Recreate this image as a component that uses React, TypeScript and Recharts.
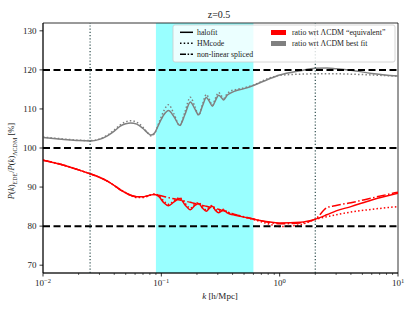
import { ComposedChart, Line, XAxis, YAxis, ReferenceArea, ReferenceLine } from 'recharts';

// k grid shared by every curve [h/Mpc]
const kGrid = [
  0.01, 0.015, 0.02, 0.025, 0.03, 0.035, 0.04, 0.045, 0.05, 0.055,
  0.062, 0.07, 0.077, 0.082, 0.088, 0.095, 0.105, 0.115, 0.128, 0.143,
  0.158, 0.176, 0.192, 0.207, 0.223, 0.24, 0.255, 0.27, 0.287, 0.305,
  0.32, 0.336, 0.36, 0.38, 0.42, 0.5, 0.6, 0.8, 1.0, 1.5,
  2.0, 2.5, 3.0, 4.0, 6.0, 10,
];

// ratio wrt LCDM best fit (gray)
const grayHalofit = [
  102.7, 102.2, 101.9, 101.8, 102.2, 103.1, 104.3, 105.6, 106.2, 106.4,
  106.1, 105.0, 103.8, 103.3, 103.9, 106.0, 108.5, 109.6, 108.0, 105.8,
  108.5, 111.8, 110.0, 108.5, 110.8, 112.9, 111.9, 110.7, 112.2, 113.5,
  113.0, 112.3, 113.5, 114.0, 114.6, 115.2, 116.0, 117.6, 118.7, 119.8,
  120.4, 120.5, 120.3, 119.9, 119.1, 118.4,
];
const grayHmcode = [
  102.8, 102.3, 102.0, 101.9, 102.3, 103.3, 104.6, 105.9, 106.7, 107.0,
  106.6, 105.3, 103.8, 103.1, 103.8, 106.3, 109.5, 111.1, 108.7, 105.7,
  109.2, 113.0, 110.6, 108.4, 111.2, 113.7, 112.4, 110.9, 112.8, 114.2,
  113.5, 112.7, 113.9, 114.5, 114.9, 115.4, 116.1, 117.8, 118.6, 118.9,
  119.0, 119.0, 119.0, 118.9, 118.7, 118.4,
];

// ratio wrt LCDM "equivalent" (red)
const redHalofit = [
  96.9, 95.6, 94.4, 93.4, 92.5, 91.5, 90.4, 89.3, 88.5, 87.9,
  87.5, 87.5, 87.8, 88.0, 88.1, 87.6, 86.0, 85.2, 86.2, 87.1,
  85.5, 84.2, 85.3, 85.8, 84.6, 83.8, 84.6, 85.1, 84.0, 83.4,
  83.8, 84.1, 83.4, 83.1, 82.8, 82.3, 81.8, 81.1, 80.8, 81.0,
  81.8, 82.9, 83.9, 85.0, 86.7, 88.4,
];
const redHmcode = [
  96.9, 95.6, 94.4, 93.4, 92.5, 91.5, 90.4, 89.4, 88.6, 87.9,
  87.3, 87.3, 87.7, 88.0, 88.2, 87.8, 86.4, 85.6, 86.5, 87.3,
  85.9, 84.6, 85.6, 86.0, 84.9, 84.2, 84.9, 85.3, 84.3, 83.8,
  84.1, 84.3, 83.6, 83.3, 82.9, 82.3, 81.7, 80.6, 79.9, 80.4,
  81.7, 82.4, 82.9, 83.6, 84.3, 85.0,
];
const redSpliced = [
  96.9, 95.6, 94.4, 93.4, 92.5, 91.5, 90.4, 89.3, 88.5, 87.9,
  87.5, 87.5, 87.8, 88.0, 88.1, 87.9, 87.6, 87.3, 87.0, 86.7,
  86.4, 86.1, 85.8, 85.6, 85.3, 85.1, 84.9, 84.7, 84.5, 84.3,
  84.1, 83.9, 83.6, 83.4, 83.0, 82.4, 81.8, 81.0, 80.6, 80.8,
  81.8, 84.7, 85.3, 86.0, 87.2, 88.7,
];

const xMajorTicks = [0.01, 0.1, 1, 10];
const xMajorExponents = ['\u22122', '\u22121', '0', '1'];
const yTicks = [70, 80, 90, 100, 110, 120, 130];
const refLevels = [80, 100, 120];
const scaleMarks = [0.025, 2];
const band = [0.09, 0.6];

const FONT = '"Liberation Serif", "Times New Roman", serif';

const xMinorTicks = [0.01, 0.1, 1].flatMap((d) =>
  [2, 3, 4, 5, 6, 7, 8, 9].map((m) => +(m * d).toPrecision(3))
);
const xTicks = [...xMajorTicks, ...xMinorTicks].sort((a, b) => a - b);

const rows = kGrid.map((k, i) => ({
  k,
  grayHalofit: grayHalofit[i],
  grayHmcode: grayHmcode[i],
  redHalofit: redHalofit[i],
  redHmcode: redHmcode[i],
  redSpliced: redSpliced[i],
}));

function LogTick(props: any) {
  const { x, y, payload } = props;
  const i = xMajorTicks.indexOf(payload.value);
  const major = i >= 0;
  return (
    <g>
      <line x1={x} x2={x} y1={y} y2={y + (major ? 3.5 : 2)} stroke="#000" strokeWidth={major ? 0.8 : 0.6} />
      {major && (
        <text x={x} y={y + 13} textAnchor="middle" fontSize={9} fontFamily={FONT} fill="#222">
          10<tspan dy={-3.5} fontSize={6.5}>{xMajorExponents[i]}</tspan>
        </text>
      )}
    </g>
  );
}

const YLabel = () => (
  <text transform="translate(14,161) rotate(-90)" textAnchor="middle" fontSize={8.5} fontFamily={FONT} fill="#222">
    <tspan fontStyle="italic">P</tspan>(<tspan fontStyle="italic">k</tspan>)
    <tspan dy={2.5} fontSize={6}>EDE</tspan>
    <tspan dy={-2.5}>/</tspan>
    <tspan fontStyle="italic">P</tspan>(<tspan fontStyle="italic">k</tspan>)
    <tspan dy={2.5} fontSize={6}>ΛCDM</tspan>
    <tspan dy={-2.5}> [%]</tspan>
  </text>
);

const XLabel = () => (
  <text x={220} y={299} textAnchor="middle" fontSize={9} fontFamily={FONT} fill="#222">
    <tspan fontStyle="italic">k</tspan> [h/Mpc]
  </text>
);

export default function App() {
  return (
    <div style={{ position: 'absolute', left: 0, top: 0, width: 414, height: 311, background: '#fff' }}>
      <ComposedChart width={414} height={311} data={rows} margin={{ top: 23, right: 16, bottom: 0, left: 0 }}>
        <ReferenceArea x1={band[0]} x2={band[1]} fill="#00ffff" fillOpacity={0.4} stroke="none" />
        <XAxis
          dataKey="k"
          type="number"
          scale="log"
          domain={[0.01, 10]}
          allowDataOverflow
          ticks={xTicks}
          interval={0}
          height={38}
          tickSize={0}
          tickMargin={0}
          tickLine={false}
          axisLine={{ stroke: '#000', strokeWidth: 0.8 }}
          tick={<LogTick />}
          label={{ content: () => <XLabel /> }}
        />
        <YAxis
          type="number"
          domain={[68, 132]}
          allowDataOverflow
          ticks={yTicks}
          interval={0}
          width={43}
          tickSize={3.5}
          tickMargin={3}
          tickLine={{ stroke: '#000', strokeWidth: 0.8 }}
          axisLine={{ stroke: '#000', strokeWidth: 0.8 }}
          tick={{ fill: '#222', fontSize: 9, fontFamily: FONT }}
          label={{ content: () => <YLabel /> }}
        />
        <Line dataKey="grayHalofit" stroke="#808080" strokeWidth={1.5} type="monotone" dot={false} isAnimationActive={false} />
        <Line dataKey="grayHmcode" stroke="#808080" strokeWidth={1.5} strokeDasharray="1.5 2.2" type="monotone" dot={false} isAnimationActive={false} />
        <Line dataKey="redHalofit" stroke="#ff0000" strokeWidth={1.5} type="monotone" dot={false} isAnimationActive={false} />
        <Line dataKey="redHmcode" stroke="#ff0000" strokeWidth={1.5} strokeDasharray="1.5 2.2" type="monotone" dot={false} isAnimationActive={false} />
        <Line dataKey="redSpliced" stroke="#ff0000" strokeWidth={1.5} strokeDasharray="9 2.4 1.5 2.4" type="monotone" dot={false} isAnimationActive={false} />
        {refLevels.map((v) => (
          <ReferenceLine key={v} y={v} stroke="#000" strokeWidth={2} strokeDasharray="7 3.5" />
        ))}
        {scaleMarks.map((k) => (
          <ReferenceLine key={k} x={k} stroke="#2f4f4f" strokeWidth={1.2} strokeDasharray="1.2 2" />
        ))}
        <ReferenceArea x1={0.01} x2={10} y1={68} y2={132} fill="none" stroke="#000" strokeWidth={0.8} />
      </ComposedChart>

      <svg width={414} height={311} style={{ position: 'absolute', left: 0, top: 0, pointerEvents: 'none' }}>
        <text x={219} y={17.5} textAnchor="middle" fontSize={10} fontFamily={FONT} fill="#222">z=0.5</text>
        <rect x={173} y={25} width={222} height={37} rx={2} fill="#fff" fillOpacity={0.8} stroke="#cccccc" strokeWidth={0.8} />
        <g fontSize={7.8} fontFamily={FONT} fill="#222">
          <line x1={180} x2={193} y1={32.3} y2={32.3} stroke="#000" strokeWidth={1.5} />
          <text x={197} y={35}>halofit</text>
          <line x1={180} x2={193} y1={43.3} y2={43.3} stroke="#000" strokeWidth={1.5} strokeDasharray="1.5 2.2" />
          <text x={197} y={46}>HMcode</text>
          <line x1={180} x2={193} y1={54.3} y2={54.3} stroke="#000" strokeWidth={1.5} strokeDasharray="6 1.6 1.5 1.6" />
          <text x={197} y={57}>non-linear spliced</text>
          <rect x={271} y={30} width={15} height={5} fill="#ff0000" />
          <text x={292} y={35}>ratio wrt ΛCDM “equivalent”</text>
          <rect x={271} y={41} width={15} height={5} fill="#808080" />
          <text x={292} y={46}>ratio wrt ΛCDM best fit</text>
        </g>
      </svg>
    </div>
  );
}
